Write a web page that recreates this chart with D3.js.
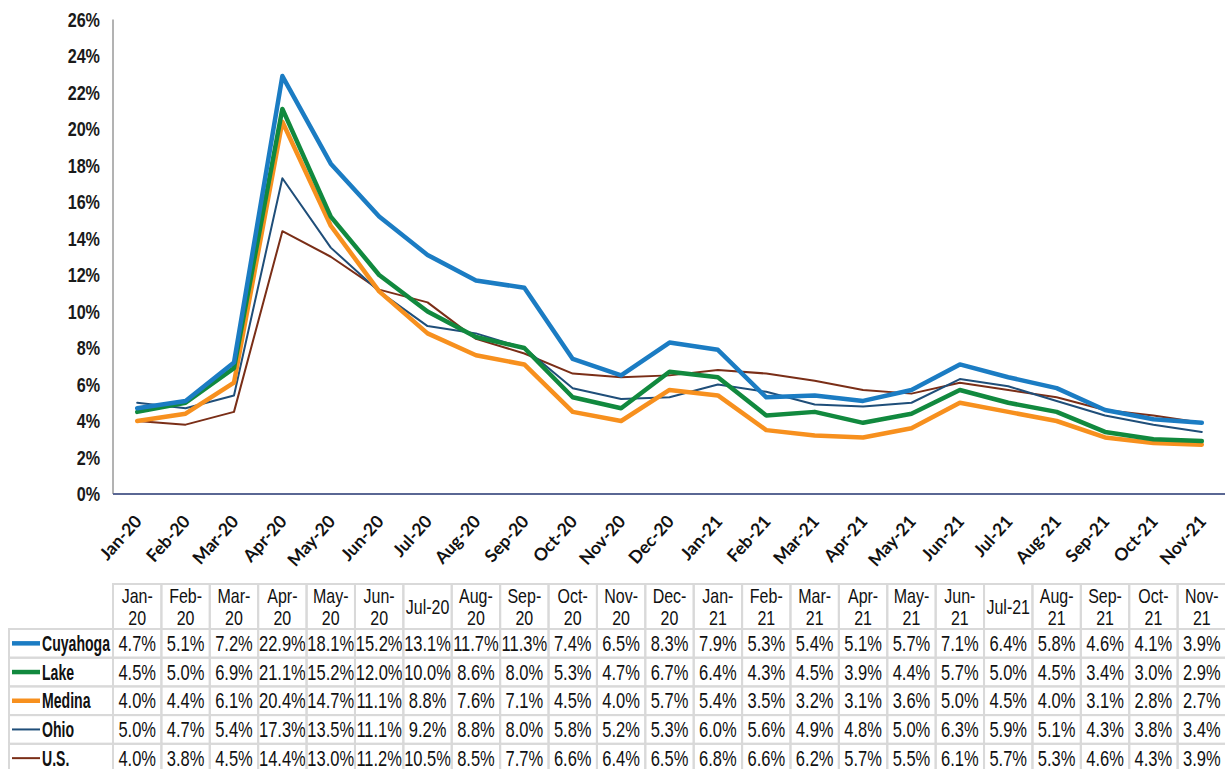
<!DOCTYPE html>
<html><head><meta charset="utf-8">
<script src="https://cdn.jsdelivr.net/npm/d3@7/dist/d3.min.js"></script>
<style>body{margin:0;background:#fff;} svg{display:block;}</style>
</head><body><svg id="c" width="1225" height="769"></svg>
<script>
const months = ["Jan-20","Feb-20","Mar-20","Apr-20","May-20","Jun-20","Jul-20","Aug-20","Sep-20","Oct-20","Nov-20","Dec-20","Jan-21","Feb-21","Mar-21","Apr-21","May-21","Jun-21","Jul-21","Aug-21","Sep-21","Oct-21","Nov-21"];
const cuyahoga = [4.7,5.1,7.2,22.9,18.1,15.2,13.1,11.7,11.3,7.4,6.5,8.3,7.9,5.3,5.4,5.1,5.7,7.1,6.4,5.8,4.6,4.1,3.9];
const lake     = [4.5,5.0,6.9,21.1,15.2,12.0,10.0,8.6,8.0,5.3,4.7,6.7,6.4,4.3,4.5,3.9,4.4,5.7,5.0,4.5,3.4,3.0,2.9];
const medina   = [4.0,4.4,6.1,20.4,14.7,11.1,8.8,7.6,7.1,4.5,4.0,5.7,5.4,3.5,3.2,3.1,3.6,5.0,4.5,4.0,3.1,2.8,2.7];
const ohio     = [5.0,4.7,5.4,17.3,13.5,11.1,9.2,8.8,8.0,5.8,5.2,5.3,6.0,5.6,4.9,4.8,5.0,6.3,5.9,5.1,4.3,3.8,3.4];
const us       = [4.0,3.8,4.5,14.4,13.0,11.2,10.5,8.5,7.7,6.6,6.4,6.5,6.8,6.6,6.2,5.7,5.5,6.1,5.7,5.3,4.6,4.3,3.9];
const seriesNames = ["Cuyahoga","Lake","Medina","Ohio","U.S."];
const yTicks = [0,2,4,6,8,10,12,14,16,18,20,22,24,26];

(function(){
const series = [
  {name:"Cuyahoga", values:cuyahoga, color:"#1b7cc3", w:4.5},
  {name:"Lake", values:lake, color:"#11893e", w:4.5},
  {name:"Medina", values:medina, color:"#f7901e", w:4.5},
  {name:"Ohio", values:ohio, color:"#1f4e79", w:2},
  {name:"U.S.", values:us, color:"#7a2e17", w:2}
];
const drawOrder = [4,3,2,1,0];

const svg = d3.select("#c");
const pLeft = 113, pRight = 1226, pTop = 19.5, pBottom = 494;
const x = d3.scaleBand().domain(months).range([pLeft, pRight]);
const y = d3.scaleLinear().domain([0,26]).range([pBottom, pTop]);
const cx = m => x(m) + x.bandwidth()/2;
const SF = "'Liberation Sans',Arial,sans-serif";

function ntext(g, tx, ty, str, opts) {
  return g.append("text")
    .attr("transform", `translate(${tx},${ty}) scale(${opts.sx},1)`)
    .attr("dy","0.35em").attr("text-anchor", opts.anchor || "middle")
    .style("font-family", SF).style("font-size", opts.size + "px")
    .style("font-weight", opts.bold ? "bold" : "normal").style("fill", opts.fill || "#111")
    .text(str);
}

const yg = svg.append("g");
yTicks.forEach(d => ntext(yg, 100, y(d), d + "%", {sx:0.77, size:21, bold:true, anchor:"end", fill:"#1a1a1a"}));

svg.append("line").attr("x1",pLeft).attr("x2",pLeft).attr("y1",pTop).attr("y2",pBottom)
  .attr("stroke","#666").attr("stroke-width",1);
svg.append("line").attr("x1",pLeft).attr("x2",1225).attr("y1",pBottom).attr("y2",pBottom)
  .attr("stroke","#5a6794").attr("stroke-width",2);

svg.append("g").selectAll("text").data(months).join("text")
  .attr("transform", d => `translate(${cx(d)+1},${pBottom+24}) rotate(-48)`)
  .attr("text-anchor","end").attr("dy","0.35em")
  .style("font-family","Lato,'Open Sans',sans-serif")
  .style("font-size","17.5px").style("font-weight","bold").style("fill","#111")
  .text(d => d);

const line = d3.line().x((d,i)=>cx(months[i])).y(d=>y(d));
drawOrder.forEach(k => {
  const s = series[k];
  svg.append("path").attr("d", line(s.values)).attr("fill","none")
    .attr("stroke", s.color).attr("stroke-width", s.w).attr("stroke-linejoin","round").attr("stroke-linecap","round");
});

const tTop = 584, hH = 45, rH = 28.7;
const grid = svg.append("g");
const gc = "#d9d9d9";
const tOpt = {sx:0.75, size:22, bold:false};
const hOpt = {sx:0.78, size:20.5, bold:false};
months.forEach(m => {
  grid.append("rect").attr("x", x(m)).attr("y", tTop).attr("width", x.bandwidth()).attr("height", hH)
    .attr("fill","none").attr("stroke",gc).attr("stroke-width",2);
  const parts = m.split("-");
  if (parts[0] === "Jul") {
    ntext(grid, cx(m), tTop + hH/2, m, hOpt);
  } else {
    ntext(grid, cx(m), tTop + 12, parts[0] + "-", hOpt);
    ntext(grid, cx(m), tTop + 34, parts[1], hOpt);
  }
});
series.forEach((s,r) => {
  const ry = tTop + hH + r*rH;
  grid.append("rect").attr("x", 9).attr("y", ry).attr("width", pLeft-9).attr("height", rH)
    .attr("fill","none").attr("stroke",gc).attr("stroke-width",2);
  grid.append("line").attr("x1",12).attr("x2",40).attr("y1",ry+rH/2).attr("y2",ry+rH/2)
    .attr("stroke", s.color).attr("stroke-width", s.w);
  ntext(grid, 42, ry+rH/2, seriesNames[r], {sx:0.64, size:22, bold:true, anchor:"start"});
  s.values.forEach((v,i) => {
    const m = months[i];
    grid.append("rect").attr("x", x(m)).attr("y", ry).attr("width", x.bandwidth()).attr("height", rH)
      .attr("fill","none").attr("stroke",gc).attr("stroke-width",2);
    ntext(grid, cx(m), ry+rH/2, v.toFixed(1)+"%", tOpt);
  });
});
})();
</script></body></html>
